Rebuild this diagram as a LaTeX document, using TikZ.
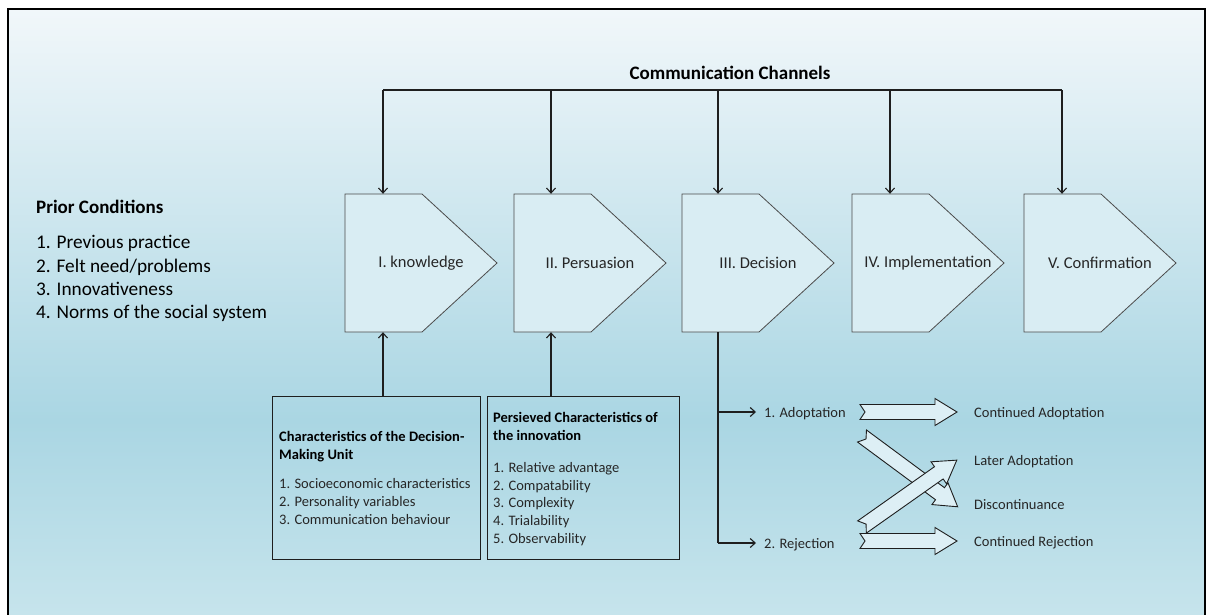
\documentclass[tikz,border=0pt]{standalone}
\usepackage{fontspec}
\setmainfont{Carlito}
\usetikzlibrary{arrows.meta,calc}

\definecolor{bgtop}{HTML}{F1F7FA}
\definecolor{bgmid}{HTML}{AAD6E3}
\definecolor{bgbot}{HTML}{C6E4EC}
\definecolor{pentfill}{HTML}{D9EDF3}
\definecolor{arrfill}{HTML}{DDEFF5}
\definecolor{ink}{HTML}{1E1E1E}
\definecolor{txt}{HTML}{262626}

\pgfdeclareverticalshading{bgshade}{100bp}{color(0bp)=(bgbot); color(25bp)=(bgbot); color(41bp)=(bgmid); color(75bp)=(bgtop); color(100bp)=(bgtop)}

\newcommand\mypent[2]{% #1 name, #2 left x
  \draw[pentline] (#2,194) -- ++(77,0) -- ++(75,69) -- ++(-75,69) -- ++(-77,0) -- cycle;
  \node[pentbox] (#1) at ({#2+76},263) {};
}
\newcommand\myblock[3]{% #1 start, #2 angle, #3 length
  \draw[barrow, shift={#1}, rotate=#2] (0,-7.5) -- ({#3-22},-7.5) -- ({#3-22},-13.5) -- (#3,0) -- ({#3-22},13.5) -- ({#3-22},7.5) -- (0,7.5) -- (5,0) -- cycle;
}

\begin{document}
\begin{tikzpicture}[x=1pt,y=-1pt,
  pentline/.style={draw=ink!80, line width=0.8pt, fill=pentfill},
  pentbox/.style={minimum width=152pt, minimum height=138pt, inner sep=0pt, draw=none},
  conn/.style={draw=ink, line width=1.2pt, -{Straight Barb[length=5pt,width=9pt,line width=1.1pt]}},
  plain/.style={draw=ink, line width=1.2pt},
  barrow/.style={draw=ink, line width=0.9pt, fill=arrfill, line join=miter},
  stagetxt/.style={font=\fontsize{16.5}{19}\selectfont, text=txt},
  lbl/.style={font=\fontsize{14.5}{17}\selectfont, text=txt, anchor=base west, inner sep=0pt},
  boxtxt/.style={font=\fontsize{14.5}{17}\selectfont, text=txt, anchor=base west, inner sep=0pt},
  boxhead/.style={font=\bfseries\fontsize{14.5}{17}\selectfont, text=black, anchor=base west, inner sep=0pt},
  prior/.style={font=\fontsize{19.3}{22}\selectfont, text=black, anchor=base west, inner sep=0pt},
  charbox/.style={draw=ink, line width=1.2pt, anchor=north west, inner sep=0pt}
]
\useasboundingbox (0,0) rectangle (1206,614);
\fill[white] (0,0) rectangle (1206,614);
\shade[shading=bgshade] (8,9) rectangle (1206,614);
\draw[black, line width=1.4pt] (8,620) -- (8,9) -- (1205,9) -- (1205,620);

% title
\node[font=\bfseries\fontsize{19}{22}\selectfont, anchor=base, inner sep=0pt] (cc) at (730,79.5) {Communication Channels};

% stages
\mypent{k}{345}
\mypent{p}{514}
\mypent{d}{682}
\mypent{im}{852}
\mypent{cf}{1024}
\node[stagetxt] (kt) at (k) {I. knowledge};
\node[stagetxt] (pt) at (p) {II. Persuasion};
\node[stagetxt] (dt) at (d) {III. Decision};
\node[stagetxt] (imt) at (im) {IV. Implementation};
\node[stagetxt] (cft) at (cf) {V. Confirmation};

% communication channel lines
\coordinate (c1) at (383,90);
\coordinate (c2) at (551,90);
\coordinate (c3) at (718,90);
\coordinate (c4) at (890,90);
\coordinate (c5) at (1062,90);
\draw[plain] (c1) -- (c5);
\draw[conn] (c1) -- (c1 |- k.north);
\draw[conn] (c2) -- (c2 |- p.north);
\draw[conn] (c3) -- (c3 |- d.north);
\draw[conn] (c4) -- (c4 |- im.north);
\draw[conn] (c5) -- (c5 |- cf.north);

% prior conditions
\node[prior, font=\bfseries\fontsize{19}{22}\selectfont] (pc) at (36,213) {Prior Conditions};
\node[prior] (pc1) at (36,248.5) {1. Previous practice};
\node[prior] (pc2) at (36,272) {2. Felt need/problems};
\node[prior] (pc3) at (36,295) {3. Innovativeness};
\node[prior] (pc4) at (36,318.5) {4. Norms of the social system};

% characteristic boxes
\node[charbox, minimum width=208pt, minimum height=163pt] (b1) at (272,396) {};
\node[charbox, minimum width=192pt, minimum height=163pt] (b2) at (487,396) {};
\draw[conn] (b1.north -| c1) -- (c1 |- k.south);
\draw[conn] (b2.north -| c2) -- (c2 |- p.south);

\node[boxhead] (b1h1) at (279,441) {Characteristics of the Decision-};
\node[boxhead] (b1h2) at (279,459) {Making Unit};
\node[boxtxt] (b1i1) at (279,488) {1. Socioeconomic characteristics};
\node[boxtxt] (b1i2) at (279,506) {2. Personality variables};
\node[boxtxt] (b1i3) at (279,524) {3. Communication behaviour};

\node[boxhead] (b2h1) at (493,422) {Persieved Characteristics of};
\node[boxhead] (b2h2) at (493,440) {the innovation};
\node[boxtxt] (b2i1) at (493,472) {1. Relative advantage};
\node[boxtxt] (b2i2) at (493,490) {2. Compatability};
\node[boxtxt] (b2i3) at (493,507.5) {3. Complexity};
\node[boxtxt] (b2i4) at (493,525) {4. Trialability};
\node[boxtxt] (b2i5) at (493,543) {5. Observability};

% decision outcomes
\node[lbl] (ad) at (764,417) {1. Adoptation};
\node[lbl] (rj) at (764,548) {2. Rejection};
\coordinate (dj) at (718,543);
\coordinate (da) at (718,412);
\draw[plain] (d.south -| c3) -- (dj);
\draw[conn] (da) -- ([xshift=-8pt]ad.west |- da);
\draw[conn] (dj) -- ([xshift=-8pt]rj.west |- dj);

\node[lbl] (ca) at (974,417) {Continued Adoptation};
\node[lbl] (la) at (974,465) {Later Adoptation};
\node[lbl] (dc) at (974,509) {Discontinuance};
\node[lbl] (cr) at (974,546) {Continued Rejection};

% block arrows
\myblock{(862,436)}{-36.5}{119}
\myblock{(862,527)}{35.2}{116}
\myblock{(860,412)}{0}{97}
\myblock{(860,541)}{0}{97}
\end{tikzpicture}
\end{document}
